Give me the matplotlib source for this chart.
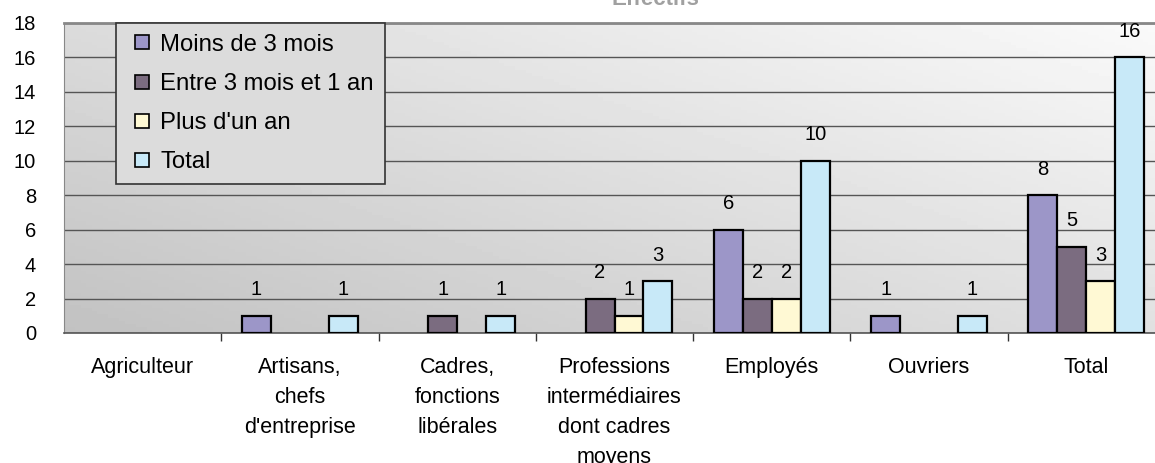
import numpy as np
import matplotlib
matplotlib.use('Agg')
import matplotlib.pyplot as plt
from matplotlib.lines import Line2D

plt.rcParams['font.family'] = ['Liberation Sans', 'DejaVu Sans']

# Données
categories = ['Agriculteur', 'Artisans,\nchefs\nd\'entreprise', 'Cadres,\nfonctions\nlibérales',
              'Professions\nintermédiaires\ndont cadres\nmoyens', 'Employés', 'Ouvriers', 'Total']
series = ['Moins de 3 mois', 'Entre 3 mois et 1 an', 'Plus d\'un an', 'Total']
moins_3_mois = [0, 1, 0, 0, 6, 1, 8]
entre_3_mois_1_an = [0, 0, 1, 2, 2, 0, 5]
plus_un_an = [0, 0, 0, 1, 2, 0, 3]
total = [0, 1, 1, 3, 10, 1, 16]
couleurs = ['#9c96c8', '#7b6c80', '#fff9d4', '#c8e9f8']
y_ticks = list(range(0, 20, 2))

valeurs = [moins_3_mois, entre_3_mois_1_an, plus_un_an, total]

fig = plt.figure(figsize=(11.55, 4.63), dpi=100)
ax = fig.add_axes([64 / 1155, 130 / 463, 1101 / 1155, 310 / 463])

# fond en dégradé
gx, gy = np.meshgrid(np.linspace(0, 1, 200), np.linspace(0, 1, 100))
grad = 0.76 + 0.22 * (0.55 * gx + 0.45 * gy)
ax.imshow(grad, cmap='gray', vmin=0, vmax=1, extent=[-0.5, 6.5, 0, 18],
          origin='lower', aspect='auto', zorder=0)

x = np.arange(len(categories))
w = 0.184
for i, (nom, vals, c) in enumerate(zip(series, valeurs, couleurs)):
    xs = x + (i - 1.5) * w
    vals = np.array(vals, dtype=float)
    m = vals > 0
    ax.bar(xs[m], vals[m], width=w, color=c, edgecolor='black', linewidth=1.6, zorder=3)
    for xi, v in zip(xs[m], vals[m]):
        ax.annotate(f'{int(v)}', (xi, v), xytext=(0, 12), textcoords='offset points',
                    ha='center', va='bottom', fontsize=14.5, zorder=4)

ax.set_xlim(-0.5, 6.5)
ax.set_ylim(0, 18)
ax.set_yticks(y_ticks)
ax.yaxis.grid(True, color='#555555', linewidth=1)
ax.set_axisbelow(True)
ax.tick_params(axis='y', length=0, pad=20, labelsize=14.5)

ax.set_xticks(x)
ax.set_xticklabels(categories, fontsize=15.5, linespacing=1.58, va='top')
ax.set_xticks(np.arange(0.5, 6.5, 1), minor=True)
ax.tick_params(axis='x', which='major', length=0, pad=17)
ax.tick_params(axis='x', which='minor', length=6, width=1, color='#333333', direction='out')

ax.spines['top'].set_color('#888888')
ax.spines['top'].set_linewidth(2)
ax.spines['left'].set_color('#888888')
ax.spines['right'].set_visible(False)
ax.spines['bottom'].set_color('#555555')
ax.spines['bottom'].set_linewidth(1.2)

handles = [Line2D([], [], linestyle='none', marker='s', markersize=9.4, markerfacecolor=c,
                  markeredgecolor='black', markeredgewidth=1.2) for c in couleurs]
leg = ax.legend(handles, series, loc='upper left', bbox_to_anchor=(0.047, 1.0), borderaxespad=0,
                fontsize=17.2, frameon=True, fancybox=False, edgecolor='#333333',
                facecolor='#dcdcdc', framealpha=1, handlelength=1.3,
                labelspacing=0.72, handletextpad=0.12, borderpad=0.45)
leg.get_frame().set_linewidth(1.2)
leg.set_zorder(5)

fig.text(655 / 1155, 1 - 5 / 463, 'Effectifs', ha='center', va='baseline',
         fontsize=16, fontweight='bold', color='#a0a0a0')

fig.savefig('out.png', dpi=100)
